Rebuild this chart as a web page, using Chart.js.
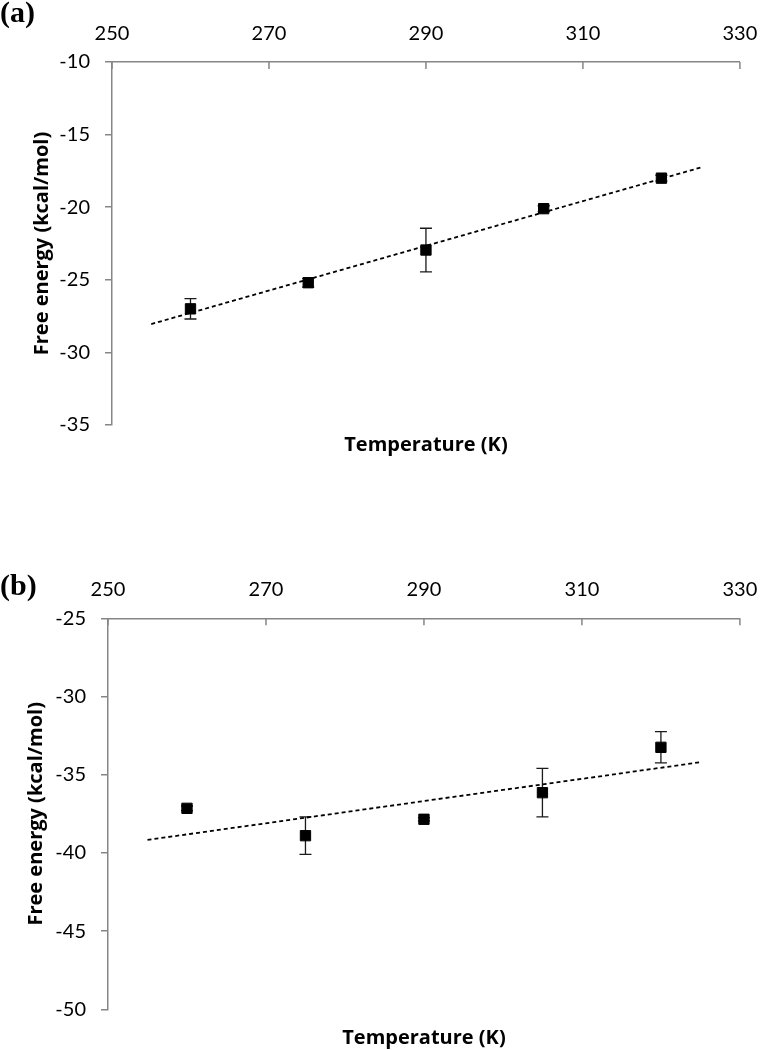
<!DOCTYPE html>
<html>
<head>
<meta charset="utf-8">
<script src="https://cdn.jsdelivr.net/npm/chart.js@4.4.1/dist/chart.umd.min.js"></script>
<style>
  body { margin: 0; background: #fff; width: 774px; height: 1050px; overflow: hidden; }
  .panel { position: absolute; left: 0; width: 774px; height: 525px; }
</style>
</head>
<body>
<div class="panel" style="top:0"><canvas id="chartA" width="774" height="525"></canvas></div>
<div class="panel" style="top:525px"><canvas id="chartB" width="774" height="525"></canvas></div>
<script>
// temperatures (K)
const temps = [260, 275, 290, 305, 320];
const xTicks = [250, 270, 290, 310, 330];

// panel (a)
const energyA = [-27.0, -25.2, -22.95, -20.1, -18.0];
const errA = [0.7, 0.3, 1.5, 0.2, 0.2];
const trendXA = [255, 325];
const trendYA = [-28.05, -17.27];
const yTicksA = [-35, -30, -25, -20, -15, -10];

// panel (b)
const energyB = [-37.15, -38.9, -37.85, -36.15, -33.25];
const errB = [0.15, 1.2, 0.1, 1.55, 1.0];
const trendXB = [255, 325];
const trendYB = [-39.17, -34.2];
const yTicksB = [-50, -45, -40, -35, -30, -25];

Chart.defaults.font.family = 'Lato';
const axisGray = '#868686';
const titleFont = { family: '"Open Sans"', size: 20, weight: 'bold' };

// error bars, inward ticks on the top axis, panel letter
const extras = {
  id: 'extras',
  beforeDatasetsDraw(chart, args, o) {
    const { ctx } = chart;
    const x = chart.scales.x, y = chart.scales.y;
    ctx.save();
    ctx.strokeStyle = '#1a1a1a';
    ctx.lineWidth = 1.3;
    o.xs.forEach((v, i) => {
      const e = o.err[i];
      if (!e) return;
      const px = x.getPixelForValue(v);
      const t = y.getPixelForValue(o.ys[i] + e);
      const b = y.getPixelForValue(o.ys[i] - e);
      ctx.beginPath();
      ctx.moveTo(px, t); ctx.lineTo(px, b);
      ctx.moveTo(px - 6, t); ctx.lineTo(px + 6, t);
      ctx.moveTo(px - 6, b); ctx.lineTo(px + 6, b);
      ctx.stroke();
    });
    ctx.strokeStyle = axisGray;
    ctx.lineWidth = 1.5;
    x.ticks.forEach(tk => {
      const px = x.getPixelForValue(tk.value);
      ctx.beginPath();
      ctx.moveTo(px, x.bottom);
      ctx.lineTo(px, x.bottom + 7);
      ctx.stroke();
    });
    ctx.restore();
  },
  afterDraw(chart, args, o) {
    const { ctx } = chart;
    ctx.save();
    ctx.fillStyle = '#000';
    ctx.font = 'bold 30px "Liberation Serif", serif';
    ctx.textBaseline = 'alphabetic';
    ctx.fillText(o.label, 0, o.labelY);
    ctx.restore();
  }
};

function makeChart(id, ys, err, trendX, trendY, yTicks, lay) {
  new Chart(document.getElementById(id), {
    type: 'scatter',
    data: {
      datasets: [
        {
          data: temps.map((t, i) => ({ x: t, y: ys[i] })),
          pointStyle: 'rect',
          pointRadius: 7.3,
          backgroundColor: '#000',
          borderColor: '#000',
          borderWidth: 1
        },
        {
          type: 'line',
          data: trendX.map((t, i) => ({ x: t, y: trendY[i] })),
          borderColor: '#000',
          borderWidth: 1.8,
          borderDash: [4, 3],
          pointRadius: 0,
          fill: false
        }
      ]
    },
    options: {
      responsive: false,
      animation: false,
      layout: { padding: { left: 0, top: 0, right: lay.right, bottom: lay.bottom } },
      scales: {
        x: {
          type: 'linear',
          position: 'top',
          min: xTicks[0],
          max: xTicks[xTicks.length - 1],
          afterBuildTicks: s => { s.ticks = xTicks.map(v => ({ value: v })); },
          afterFit: s => { s.height = lay.xh; },
          ticks: { font: { size: 20 }, color: '#000', padding: 16.7, maxRotation: 0 },
          grid: { drawOnChartArea: false, drawTicks: false },
          border: { color: axisGray, width: 1.5 }
        },
        y: {
          type: 'linear',
          position: 'left',
          min: yTicks[0],
          max: yTicks[yTicks.length - 1],
          afterBuildTicks: s => { s.ticks = yTicks.map(v => ({ value: v })); },
          afterFit: s => { s.width = lay.yw; },
          ticks: { font: { size: 20 }, color: '#000', padding: 15 },
          grid: { drawOnChartArea: false, tickLength: 7, color: axisGray, lineWidth: 1.5 },
          border: { color: axisGray, width: 1.5 },
          title: {
            display: true,
            text: 'Free energy (kcal/mol)',
            color: '#000',
            font: titleFont,
            padding: { top: lay.ytPad, bottom: 0 }
          }
        }
      },
      plugins: {
        legend: { display: false },
        tooltip: { enabled: false },
        title: {
          display: true,
          position: 'bottom',
          fullSize: false,
          text: 'Temperature (K)',
          color: '#000',
          font: titleFont,
          padding: { top: lay.xtPad, bottom: 0 }
        },
        extras: { xs: temps, ys: ys, err: err, label: lay.label, labelY: lay.labelY }
      }
    },
    plugins: [extras]
  });
}

makeChart('chartA', energyA, errA, trendXA, trendYA, yTicksA,
  { right: 17, bottom: 68, xh: 62, yw: 112, ytPad: 30, xtPad: 8, label: '(a)', labelY: 22 });
makeChart('chartB', energyB, errB, trendXB, trendYB, yTicksB,
  { right: 19, bottom: 0, xh: 93.3, yw: 108, ytPad: 24.7, xtPad: 16.7, label: '(b)', labelY: 70 });
</script>
</body>
</html>
